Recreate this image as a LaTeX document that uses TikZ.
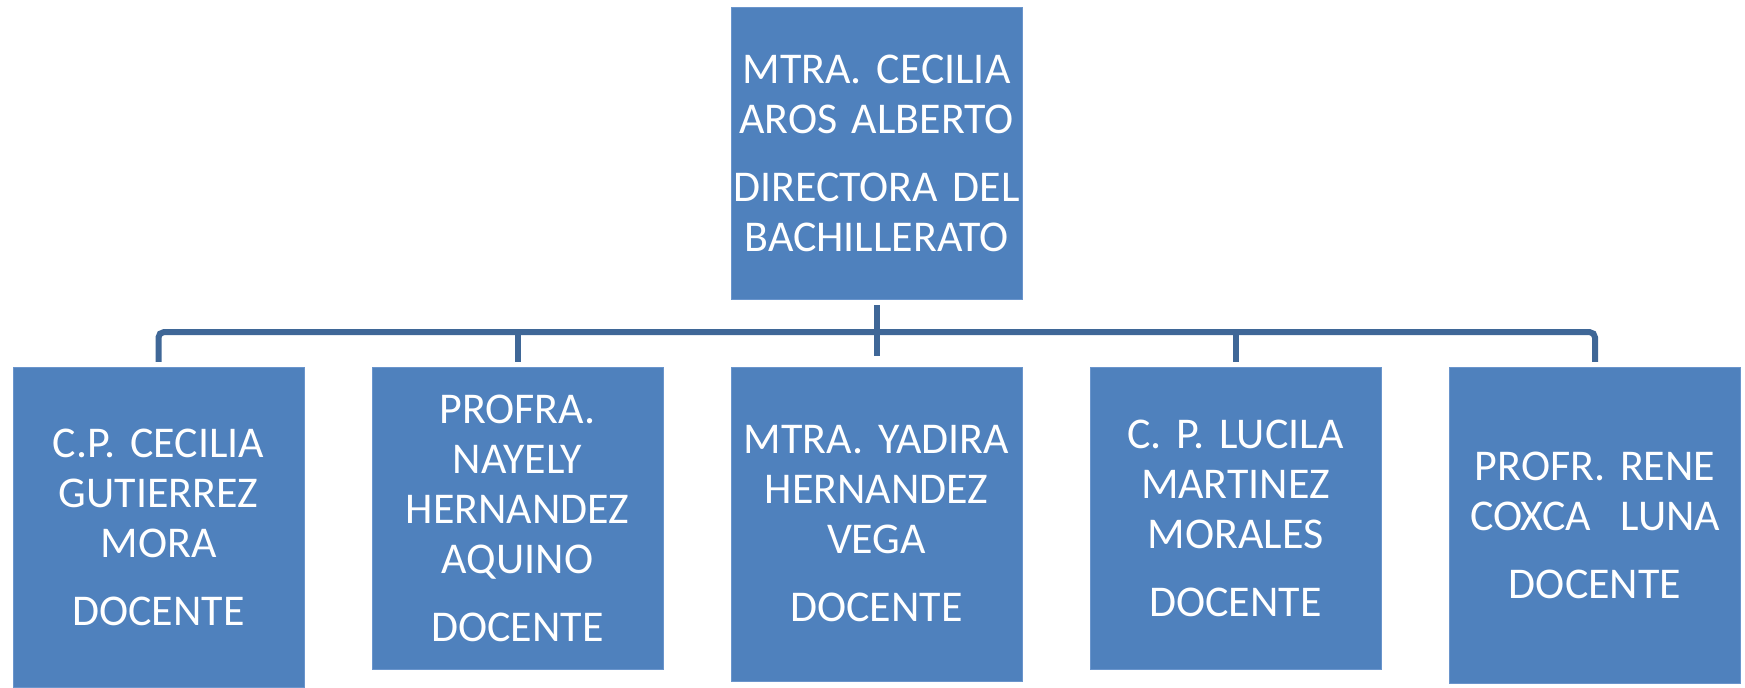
\documentclass[tikz,border=0pt]{standalone}
\usepackage{fontspec}
\setmainfont{Carlito}
\frenchspacing
\definecolor{cajaazul}{HTML}{4F81BD}
\definecolor{bordeazul}{HTML}{6A95CC}
\definecolor{lineaazul}{HTML}{3F6797}
\begin{document}
\begin{tikzpicture}[
	x=0.02cm, y=-0.02cm,
	cargo/.style={ rectangle, fill=cajaazul, draw=bordeazul, very thin, text=white, inner sep=0pt, text width=5.82cm, align=center, font=\fontsize{25}{28.45}\selectfont },
	linea/.style={ draw=lineaazul, line width=0.12cm }
]
\useasboundingbox (0,0) rectangle (1745,687);

\node at (876.5,153) (directora) [cargo,minimum height=5.84cm] {MTRA. CECILIA\\AROS ALBERTO\\[0.36cm]DIRECTORA DEL\\BACHILLERATO};

\node at (158.5,527) (cecilia) [cargo,minimum height=6.4cm] {C.P. CECILIA\\GUTIERREZ\\MORA\\[0.36cm]DOCENTE};
\node at (517.5,518) (nayely) [cargo,minimum height=6.04cm] {PROFRA.\\NAYELY\\HERNANDEZ\\AQUINO\\[0.36cm]DOCENTE};
\node at (876.5,524) (yadira) [cargo,minimum height=6.28cm] {MTRA. YADIRA\\HERNANDEZ\\VEGA\\[0.36cm]DOCENTE};
\node at (1235.5,518) (lucila) [cargo,minimum height=6.04cm] {C. P. LUCILA\\MARTINEZ\\MORALES\\[0.36cm]DOCENTE};
\node at (1595,525) (rene) [cargo,minimum height=6.32cm] {PROFR. RENE\\COXCA\ \ LUNA\\[0.36cm]DOCENTE};

\draw[linea,rounded corners=3pt] ([yshift=0.1cm]cecilia.north) |- ([yshift=-0.66cm]directora.south) -| ([yshift=0.1cm]rene.north);
\draw[linea] ([yshift=0.1cm]nayely.north) to ++(0,-30);
\draw[linea] ([yshift=0.1cm]lucila.north) to ++(0,-30);
\draw[linea] ([yshift=-0.12cm]directora.south) to ([yshift=0.22cm]yadira.north);

\end{tikzpicture}
\end{document}
